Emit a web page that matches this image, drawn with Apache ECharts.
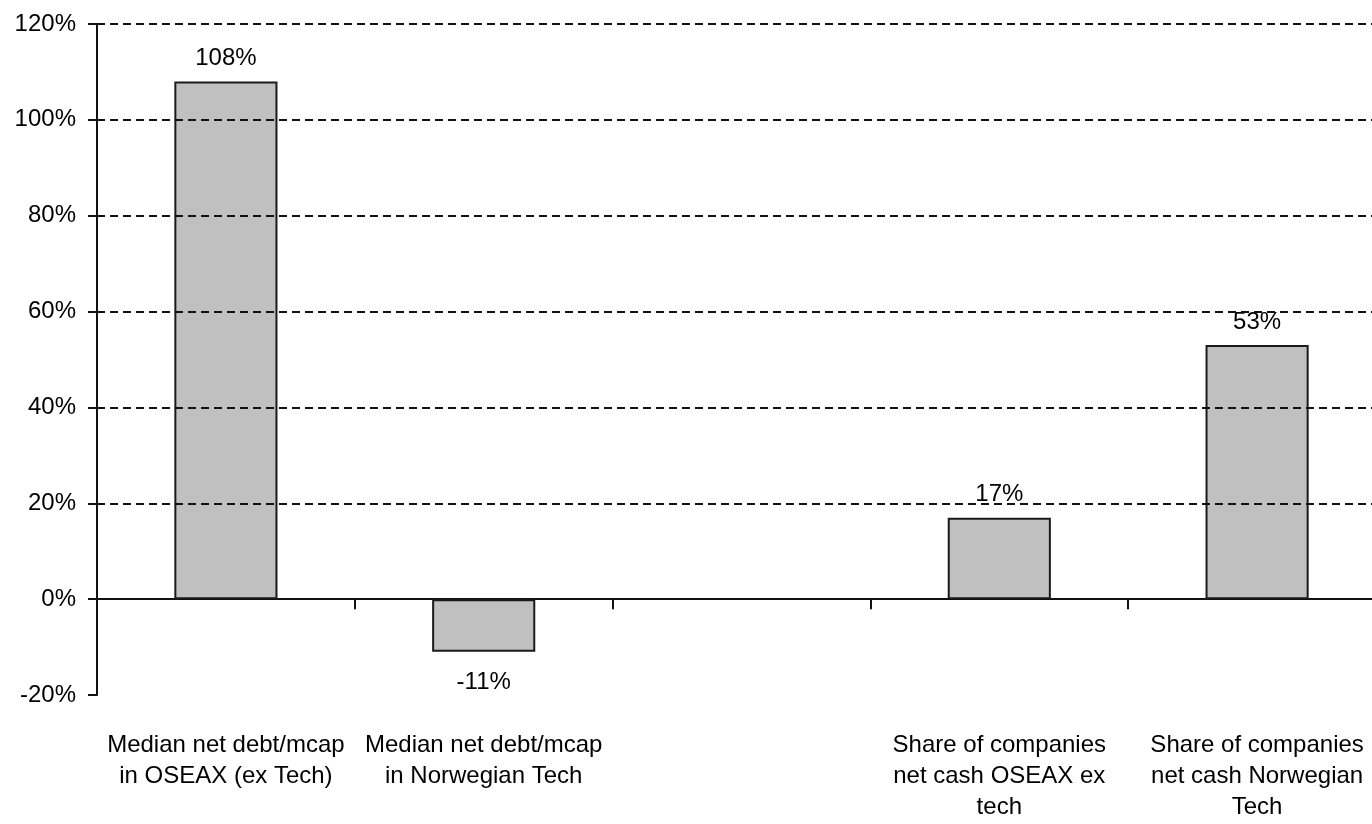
<!DOCTYPE html>
<html>
<head>
<meta charset="utf-8">
<script src="https://cdn.jsdelivr.net/npm/echarts@6/dist/echarts.min.js"></script>
<style>
  html, body { margin: 0; padding: 0; background: #fff; }
  #chart { width: 1372px; height: 824px; }
</style>
</head>
<body>
<div id="chart"></div>
<script>
// Categories (empty slot in the middle separates the two groups)
const categories = [
  'Median net debt/mcap\nin OSEAX (ex Tech)',
  'Median net debt/mcap\nin Norwegian Tech',
  '',
  'Share of companies\nnet cash OSEAX ex\ntech',
  'Share of companies\nnet cash Norwegian\nTech'
];
// Values in percent
const values = [108, -11, null, 17, 53];
// Y axis range and gridline levels
const yMin = -20;
const yMax = 120;
const yStep = 20;
const gridLevels = [20, 40, 60, 80, 100, 120];

const FONT = '"Liberation Sans", Arial, sans-serif';

const barData = values.map(v => {
  if (v === null) return '-';
  return {
    value: v,
    label: v < 0 ? { position: 'bottom', distance: 19 } : { position: 'top', distance: 11 }
  };
});

const chart = echarts.init(document.getElementById('chart'), null, { renderer: 'canvas' });
chart.setOption({
  animation: false,
  backgroundColor: '#ffffff',
  grid: {
    left: 97, right: -14, top: 24, bottom: 129,
    containLabel: false,
    outerBoundsMode: 'none'
  },
  xAxis: [
    {
      // axis line through 0% with category boundary ticks
      type: 'category',
      data: categories,
      position: 'bottom',
      axisLine: { show: true, onZero: true, lineStyle: { color: '#111', width: 2 } },
      axisTick: { show: true, alignWithLabel: false, length: 10, lineStyle: { color: '#111', width: 2 } },
      axisLabel: { show: false },
      splitLine: { show: false }
    },
    {
      // category names under the plot
      type: 'category',
      data: categories,
      position: 'bottom',
      axisLine: { show: false, onZero: false },
      axisTick: { show: false },
      axisLabel: {
        show: true,
        interval: 0,
        margin: 35,
        color: '#000',
        fontFamily: FONT,
        fontSize: 24,
        lineHeight: 31,
        align: 'center',
        hideOverlap: false
      },
      splitLine: { show: false }
    }
  ],
  yAxis: {
    type: 'value',
    min: yMin,
    max: yMax,
    interval: yStep,
    axisLine: { show: true, lineStyle: { color: '#111', width: 2 } },
    axisTick: { show: true, length: 9, lineStyle: { color: '#111', width: 2 } },
    axisLabel: {
      margin: 21,
      color: '#000',
      fontFamily: FONT,
      fontSize: 24,
      formatter: v => v + '%'
    },
    splitLine: { show: false }
  },
  series: [
    {
      // dashed gridlines, drawn underneath the bars
      type: 'line',
      data: [],
      z: 1,
      silent: true,
      markLine: {
        silent: true,
        symbol: ['none', 'none'],
        label: { show: false },
        lineStyle: { color: '#111', type: [8, 5], width: 2 },
        data: gridLevels.map(v => ({ yAxis: v }))
      }
    },
    {
      type: 'bar',
      z: 3,
      data: barData,
      barWidth: '40%',
      itemStyle: { color: '#c0c0c0', borderColor: '#1a1a1a', borderWidth: 2 },
      label: {
        show: true,
        color: '#000',
        fontFamily: FONT,
        fontSize: 24,
        formatter: p => p.value + '%'
      }
    }
  ]
});
</script>
</body>
</html>
